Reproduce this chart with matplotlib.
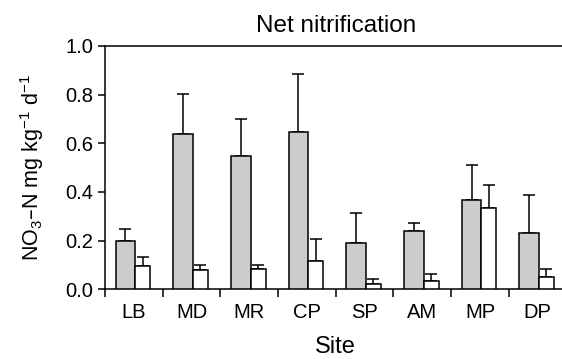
import numpy as np
import matplotlib
matplotlib.use("Agg")
import matplotlib.pyplot as plt

plt.rcParams['font.family'] = ['Liberation Sans', 'DejaVu Sans']
plt.rcParams['mathtext.default'] = 'regular'

sites = ['LB', 'MD', 'MR', 'CP', 'SP', 'AM', 'MP', 'DP']
gray_vals = [0.198, 0.638, 0.549, 0.645, 0.191, 0.239, 0.366, 0.231]
gray_err = [0.048, 0.164, 0.151, 0.238, 0.123, 0.034, 0.144, 0.157]
white_vals = [0.098, 0.078, 0.085, 0.117, 0.022, 0.036, 0.333, 0.050]
white_err = [0.033, 0.024, 0.017, 0.088, 0.022, 0.027, 0.097, 0.035]

x = np.arange(len(sites))

fig = plt.figure(figsize=(5.62, 3.59), dpi=100)
ax = fig.add_axes([0.187, 0.194, 0.821, 0.678])

ax.bar(x - 0.147, gray_vals, width=0.34, color='#cccccc', edgecolor='black',
       linewidth=1.1, zorder=3)
ax.bar(x + 0.153, white_vals, width=0.26, color='white', edgecolor='black',
       linewidth=1.1, zorder=3)
ax.errorbar(x - 0.147, gray_vals, yerr=[np.zeros(len(x)), gray_err], fmt='none',
            ecolor='black', elinewidth=1.1, capsize=4.3, capthick=1.1, zorder=2)
ax.errorbar(x + 0.153, white_vals, yerr=[np.zeros(len(x)), white_err], fmt='none',
            ecolor='black', elinewidth=1.1, capsize=4.3, capthick=1.1, zorder=2)

ax.set_xlim(-0.5, 7.5)
ax.set_ylim(0, 1.0)
ax.set_yticks(np.arange(0, 1.01, 0.2))
ax.set_yticklabels([f'{v:.1f}' for v in np.arange(0, 1.01, 0.2)])

# boundary ticks as major, labels on minor
ax.set_xticks(np.arange(-0.5, 8, 1.0))
ax.set_xticklabels([])
ax.set_xticks(x, minor=True)
ax.set_xticklabels(sites, minor=True)
ax.tick_params(axis='x', which='major', direction='out', length=6, width=1.1)
ax.tick_params(axis='x', which='minor', length=0, pad=10, labelsize=14.5)
ax.tick_params(axis='y', direction='out', length=5, width=1.1, labelsize=14.5)

for s in ['left', 'bottom', 'top', 'right']:
    ax.spines[s].set_linewidth(1.1)

ax.set_title('Net nitrification', fontsize=17.5, pad=10)
ax.set_xlabel('Site', fontsize=17, labelpad=10)
ax.set_ylabel(r'NO$_3$–N mg kg$^{-1}$ d$^{-1}$', fontsize=15.5, labelpad=14)

fig.savefig('out.png', dpi=100)
